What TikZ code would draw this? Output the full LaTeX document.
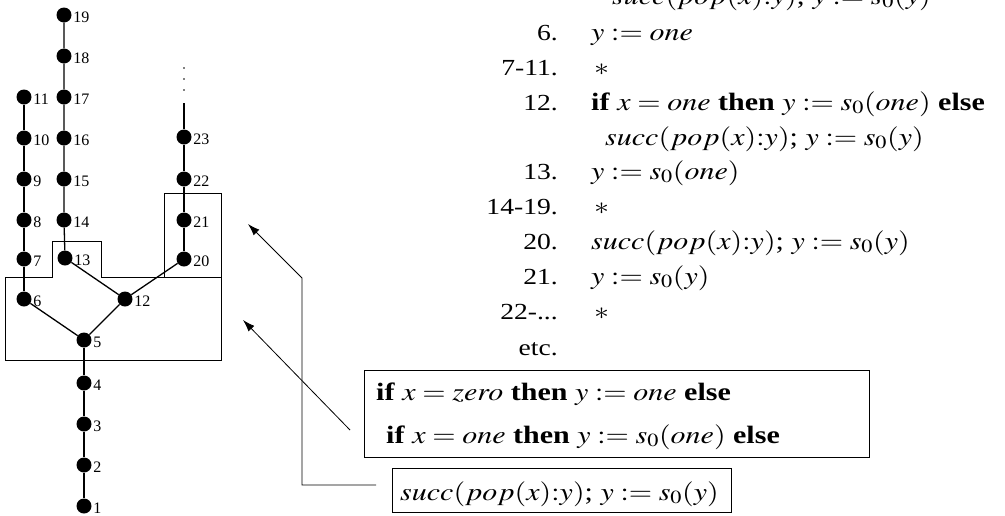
\documentclass[tikz,border=0pt]{standalone}
\usepackage{mathptmx}
\usepackage[no-math]{fontspec}
\setmainfont{Liberation Serif}
\usetikzlibrary{arrows.meta}
\newcommand{\bigtxt}{\fontsize{25}{30}\selectfont}
\newcommand{\numtxt}{\fontsize{23}{28}\selectfont}
\newcommand{\lbltxt}{\fontsize{16}{19}\selectfont}
\tikzset{
  dot/.style={circle, fill=black, inner sep=0pt, minimum size=15pt},
  lbl/.style={font=\lbltxt, inner sep=0pt},
  edge/.style={line width=1.3pt},
  frame/.style={line width=0.9pt},
  num/.style={anchor=base east, font=\numtxt, inner sep=0pt, xscale=1.2},
  txt/.style={anchor=base west, font=\bigtxt, inner sep=0pt, xscale=1.2},
  boxed/.style={draw, line width=0.9pt, inner sep=0pt},
  ptr/.style={line width=0.8pt, -{Latex[length=12pt,width=8pt]}}
}
\begin{document}
\begin{tikzpicture}[x=1pt,y=-1pt]
\useasboundingbox (0,0) rectangle (1005,515);
% nodes
\foreach \n/\x/\y in {19/64/15,18/64/56,17/64/97,16/64/138,15/64/179,14/64/220,13/65/258,
  11/24/97,10/24/138,9/24/179,8/24/220,7/24/259,6/24/299,
  12/125/299,5/84/340,4/84/383,3/84/424,2/84/465,1/84/506,
  23/184/137,22/184/179,21/184/220,20/184/259}{
  \node[dot] (n\n) at (\x,\y) {};
  \node[lbl, anchor=west] (l\n) at ([xshift=1.5pt,yshift=-2pt]n\n.east) {\n};
}
% edges
\draw[edge] (n19) -- (n18) -- (n17) -- (n16) -- (n15) -- (n14) -- (n13);
\draw[edge] (n11) -- (n10) -- (n9) -- (n8) -- (n7) -- (n6);
\draw[edge] (n13) -- (n12);
\draw[edge] (n20) -- (n12);
\draw[edge] (n23) -- (n22) -- (n21) -- (n20);
\draw[edge] (n6) -- (n5);
\draw[edge] (n12) -- (n5);
\draw[edge] (n5) -- (n4) -- (n3) -- (n2) -- (n1);
\coordinate (top23) at (184,103);
\draw[edge] (top23) -- (n23);
\foreach \yy in {68,79,90}{\fill (184,\yy) circle (0.9pt);}
% frames
\draw[frame] (5,360) -- (5,277) -- (52,277) -- (52,241) -- (101,241) -- (101,277) -- (221,277) -- (221,360) -- cycle;
\draw[frame] (164,277) -- (164,193) -- (221,193) -- (221,277);
% listing
\node[txt] (t0) at (612,4) {$succ(pop(x){:}y)$; $y := s_0(y)$};
\node[num] (k6) at (558,40) {6.};
\node[txt] (t6) at (591,40) {$y := one$};
\node[num] (k7) at (558,75) {7-11.};
\node[txt] (t7) at (594,75) {$*$};
\node[num] (k12) at (558,110) {12.};
\node[txt] (t12) at (591,110) {\textbf{if} $x = one$ \textbf{then} $y := s_0(one)$ \textbf{else}};
\node[txt] (t12b) at (605,145) {$succ(pop(x){:}y)$; $y := s_0(y)$};
\node[num] (k13) at (558,179) {13.};
\node[txt] (t13) at (591,179) {$y := s_0(one)$};
\node[num] (k14) at (558,214) {14-19.};
\node[txt] (t14) at (594,214) {$*$};
\node[num] (k20) at (558,249) {20.};
\node[txt] (t20) at (591,249) {$succ(pop(x){:}y)$; $y := s_0(y)$};
\node[num] (k21) at (558,284) {21.};
\node[txt] (t21) at (591,284) {$y := s_0(y)$};
\node[num] (k22) at (558,319) {22-...};
\node[txt] (t22) at (594,319) {$*$};
\node[num] (ketc) at (558,355) {etc.};
% boxes
\node[boxed, anchor=north west, minimum width=505pt, minimum height=87pt] (ifbox) at (364,370) {};
\node[txt] (if1) at (376,400) {\textbf{if} $x = zero$ \textbf{then} $y := one$ \textbf{else}};
\node[txt] (if2) at (386,443) {\textbf{if} $x = one$ \textbf{then} $y := s_0(one)$ \textbf{else}};
\node[boxed, anchor=north west, minimum width=339pt, minimum height=44pt] (sbox) at (392,468) {};
\node[txt] (stxt) at (400,500) {$succ(pop(x){:}y)$; $y := s_0(y)$};
% pointers
\coordinate (a2s) at (350,430);
\coordinate (a2e) at (243,320);
\draw[ptr] (a2s) -- (a2e);
\coordinate (a1s) at (376,485);
\coordinate (a1c) at (302,485);
\coordinate (a1d) at (302,278);
\coordinate (a1e) at (248,224);
\draw[ptr] (a1s) -- (a1c) -- (a1d) -- (a1e);
\end{tikzpicture}
\end{document}
